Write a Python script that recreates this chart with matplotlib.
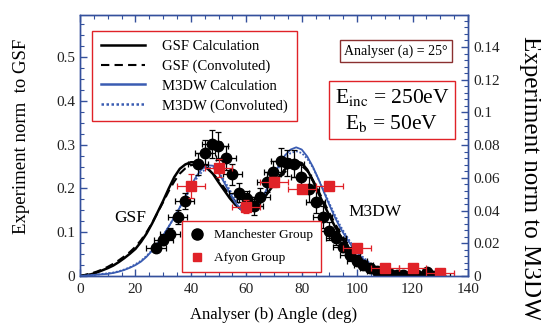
import numpy as np
import matplotlib
matplotlib.use("Agg")
import matplotlib.pyplot as plt
from matplotlib.ticker import MultipleLocator, FormatStrFormatter
from matplotlib.lines import Line2D

plt.rcParams['font.family'] = ['Liberation Serif', 'DejaVu Serif']
plt.rcParams['mathtext.fontset'] = 'stix'

# theory curves, sampled every 2 deg
theta = np.arange(0, 132, 2)
gsf_calc = [0.000, 0.002, 0.004, 0.008, 0.013, 0.018, 0.024, 0.032, 0.041, 0.051,
            0.062, 0.078, 0.097, 0.120, 0.146, 0.172, 0.200, 0.226, 0.245, 0.255,
            0.260, 0.260, 0.255, 0.246, 0.233, 0.214, 0.196, 0.178, 0.163, 0.153,
            0.149, 0.151, 0.160, 0.175, 0.192, 0.210, 0.228, 0.244, 0.256, 0.262,
            0.258, 0.243, 0.218, 0.190, 0.163, 0.138, 0.113, 0.091, 0.072, 0.056,
            0.043, 0.032, 0.023, 0.016, 0.011, 0.007, 0.004, 0.003, 0.002, 0.001,
            0.001, 0.000, 0.000, 0.000, 0.000, 0.000]
gsf_conv = [0.000, 0.003, 0.006, 0.010, 0.015, 0.021, 0.028, 0.036, 0.045, 0.055,
            0.067, 0.082, 0.100, 0.121, 0.145, 0.169, 0.194, 0.216, 0.234, 0.246,
            0.253, 0.255, 0.252, 0.245, 0.234, 0.219, 0.202, 0.185, 0.171, 0.161,
            0.156, 0.157, 0.164, 0.176, 0.192, 0.208, 0.224, 0.238, 0.249, 0.254,
            0.252, 0.240, 0.220, 0.195, 0.169, 0.144, 0.120, 0.098, 0.079, 0.062,
            0.048, 0.036, 0.027, 0.019, 0.013, 0.009, 0.006, 0.004, 0.002, 0.001,
            0.001, 0.000, 0.000, 0.000, 0.000, 0.000]
m3dw_calc = [0.000, 0.001, 0.002, 0.003, 0.004, 0.005, 0.007, 0.010, 0.014, 0.019,
             0.025, 0.033, 0.044, 0.058, 0.074, 0.093, 0.113, 0.134, 0.157, 0.181,
             0.206, 0.228, 0.245, 0.253, 0.252, 0.236, 0.214, 0.190, 0.168, 0.152,
             0.146, 0.148, 0.160, 0.180, 0.206, 0.232, 0.256, 0.276, 0.289, 0.294,
             0.289, 0.273, 0.250, 0.222, 0.192, 0.162, 0.134, 0.109, 0.088, 0.069,
             0.053, 0.040, 0.030, 0.021, 0.015, 0.010, 0.007, 0.004, 0.003, 0.002,
             0.001, 0.000, 0.000, 0.000, 0.000, 0.000]
m3dw_conv = [0.000, 0.001, 0.002, 0.003, 0.005, 0.006, 0.008, 0.011, 0.015, 0.020,
             0.027, 0.035, 0.046, 0.059, 0.075, 0.093, 0.113, 0.134, 0.156, 0.179,
             0.201, 0.222, 0.238, 0.247, 0.247, 0.237, 0.219, 0.197, 0.176, 0.161,
             0.153, 0.154, 0.164, 0.182, 0.205, 0.229, 0.251, 0.269, 0.281, 0.285,
             0.281, 0.268, 0.248, 0.222, 0.194, 0.166, 0.139, 0.114, 0.093, 0.074,
             0.058, 0.044, 0.033, 0.024, 0.017, 0.012, 0.008, 0.005, 0.003, 0.002,
             0.001, 0.000, 0.000, 0.000, 0.000, 0.000]

# Manchester data
man_angle = [27.4, 30.1, 32.5, 35.2, 37.7, 42.5, 45.1, 47.5, 49.9, 52.6, 55.0,
             57.4, 60.1, 62.7, 65.0, 67.4, 69.8, 72.4, 74.8, 77.2, 79.8, 82.6,
             85.0, 87.6, 90.0, 92.4, 94.8, 97.4, 99.9, 102.2, 104.7, 107.1,
             109.5, 111.9, 114.3, 116.7, 119.0, 121.5, 125.1, 127.5, 129.9]
man_val = [0.065, 0.082, 0.097, 0.135, 0.171, 0.255, 0.282, 0.301, 0.298, 0.270,
           0.232, 0.190, 0.175, 0.160, 0.180, 0.215, 0.238, 0.263, 0.259, 0.257,
           0.226, 0.198, 0.170, 0.134, 0.103, 0.086, 0.066, 0.048, 0.034, 0.025,
           0.018, 0.012, 0.008, 0.004, 0.002, 0.002, 0.001, 0.002, 0.010, 0.001,
           0.000]
man_yerr = [0.010, 0.012, 0.012, 0.015, 0.018, 0.025, 0.028, 0.032, 0.032, 0.028,
            0.025, 0.022, 0.020, 0.020, 0.020, 0.022, 0.025, 0.030, 0.030, 0.030,
            0.028, 0.028, 0.027, 0.025, 0.020, 0.015, 0.012, 0.010, 0.008, 0.006,
            0.005, 0.004, 0.004, 0.003, 0.003, 0.003, 0.003, 0.003, 0.004, 0.003,
            0.003]
man_xerr = 3.5

# Afyon data
afy_angle = [40, 50, 60, 70, 80, 90, 100, 110, 120, 130]
afy_val = [0.206, 0.247, 0.158, 0.215, 0.199, 0.205, 0.065, 0.018, 0.018, 0.008]
afy_yerr = [0.027, 0.020, 0.015, 0.012, 0.010, 0.006, 0.005, 0.003, 0.003, 0.002]
afy_xerr = 5

blue = '#3a5cb2'
axcol = '#34509c'
red = '#e02228'

fig = plt.figure(figsize=(5.41, 3.29), dpi=100)
ax = fig.add_axes([0.148, 0.161, 0.717, 0.793])

ax.plot(theta, gsf_calc, color='black', lw=1.8, zorder=3)
ax.plot(theta, gsf_conv, color='black', lw=1.5, ls=(0, (4, 2.5)), zorder=3)
ax.plot(theta, m3dw_calc, color=blue, lw=1.3, zorder=3)
ax.plot(theta, m3dw_conv, color=blue, lw=1.3, ls=(0, (1, 1)), zorder=3)

ax.errorbar(man_angle, man_val, xerr=man_xerr, yerr=man_yerr, fmt='o',
            color='black', ms=7.5, elinewidth=0.9, capsize=2, capthick=0.9, zorder=4)
ax.errorbar(afy_angle, afy_val, xerr=afy_xerr, yerr=afy_yerr, fmt='s',
            color=red, ms=7, elinewidth=0.9, capsize=2, capthick=0.9, zorder=5)

ax.set_xlim(0, 140)
ax.set_ylim(0, 0.596)
ax.xaxis.set_minor_locator(MultipleLocator(5))
ax.yaxis.set_minor_locator(MultipleLocator(0.025))
ax.yaxis.set_major_formatter(FormatStrFormatter('%g'))
ax.set_xticks(range(0, 141, 20))
ax.set_yticks([0, 0.1, 0.2, 0.3, 0.4, 0.5])

ax2 = ax.twinx()
ax2.set_ylim(0, 0.1595)
ax2.set_yticks([0, 0.02, 0.04, 0.06, 0.08, 0.1, 0.12, 0.14])
ax2.yaxis.set_minor_locator(MultipleLocator(0.004))
ax2.yaxis.set_major_formatter(FormatStrFormatter('%g'))

for a in (ax, ax2):
    for s in a.spines.values():
        s.set_color(axcol)
        s.set_linewidth(1.0)
    a.tick_params(which='both', direction='in', color=axcol, labelsize=11,
                  labelcolor='#222222')
    a.tick_params(which='major', length=5, width=1)
    a.tick_params(which='minor', length=3, width=0.8)
ax.tick_params(which='both', top=True)
ax.tick_params(axis='x', pad=5)
ax2.tick_params(axis='y', pad=4)

ax.set_xlabel('Analyser (b) Angle (deg)', fontsize=12, labelpad=8)
fig.text(22 / 541, 1 - 136 / 329, 'Experiment norm  to GSF', fontsize=13.5,
         rotation=90, ha='center', va='center')
fig.text(530 / 541, 1 - 178 / 329, 'Experiment norm to M3DW', fontsize=18,
         rotation=270, ha='center', va='center')

ax.text(18, 0.132, 'GSF', fontsize=12.5, ha='center', va='center')
ax.text(106.5, 0.146, 'M3DW', fontsize=12.5, ha='center', va='center')

# theory legend
handles = [Line2D([], [], color='black', lw=1.8),
           Line2D([], [], color='black', lw=1.5, ls=(0, (4, 2.5))),
           Line2D([], [], color=blue, lw=1.8),
           Line2D([], [], color=blue, lw=1.8, ls=(0, (1, 1)))]
leg1 = ax.legend(handles, ['GSF Calculation', 'GSF (Convoluted)',
                           'M3DW Calculation', 'M3DW (Convoluted)'],
                 loc='upper left', bbox_to_anchor=(0.031, 0.94), fontsize=10.5,
                 handlelength=3.0, handletextpad=1.2, labelspacing=0.45,
                 borderpad=0.6, borderaxespad=0, fancybox=False, framealpha=1)
leg1.get_frame().set_edgecolor(red)
leg1.get_frame().set_linewidth(1.0)
ax.add_artist(leg1)

# data legend
dh = [Line2D([], [], marker='o', color='black', ls='', ms=8),
      Line2D([], [], marker='s', color=red, ls='', ms=5.5)]
leg2 = ax.legend(dh, ['Manchester Group', 'Afyon Group'], loc='lower left',
                 bbox_to_anchor=(0.263, 0.015), fontsize=9.5, handlelength=1.0,
                 handletextpad=0.8, labelspacing=0.8, borderpad=0.6,
                 borderaxespad=0, fancybox=False, framealpha=1)
leg2.get_frame().set_edgecolor(red)
leg2.get_frame().set_linewidth(1.0)
leg2.set_zorder(10)

ax.text(0.815, 0.862, 'Analyser (a) = 25°', transform=ax.transAxes, fontsize=10,
        ha='center', va='center',
        bbox=dict(boxstyle='square,pad=0.3', fc='white', ec='#8a3030', lw=1.0))
ax.text(0.804, 0.636, 'E$_{\\rm inc}$ = 250eV\nE$_{\\rm b}$ = 50eV',
        transform=ax.transAxes, fontsize=15.5, ha='center', va='center',
        linespacing=1.3,
        bbox=dict(boxstyle='square,pad=0.25', fc='white', ec=red, lw=1.0))

fig.savefig('out.png', dpi=100)
